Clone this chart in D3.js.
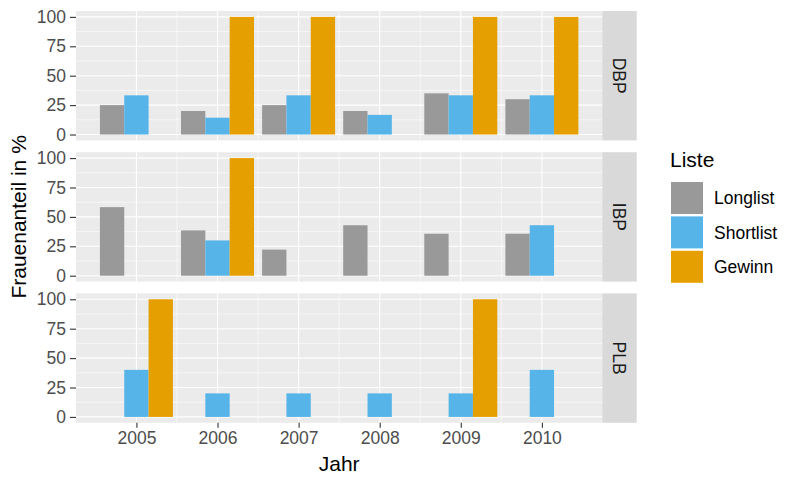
<!DOCTYPE html>
<html>
<head>
<meta charset="utf-8">
<script src="https://cdn.jsdelivr.net/npm/d3@7"></script>
<style>
  body { margin: 0; background: #fff; }
  text { font-family: "Liberation Sans", Arial, sans-serif; }
</style>
</head>
<body>
<div id="chart"></div>
<script>
const svgWidth = 800
const svgHeight = 486

// data
const years = [2005, 2006, 2007, 2008, 2009, 2010]
const prizes = ["DBP", "IBP", "PLB"]
const lists = ["Longlist", "Shortlist", "Gewinn"]
const yTicks = [0, 25, 50, 75, 100]

const dbpLonglist = [25, 20, 25, 20, 35, 30]
const dbpShortlist = [33.3, 14.3, 33.3, 16.7, 33.3, 33.3]
const dbpGewinn = [null, 100, 100, null, 100, 100]

const ibpLonglist = [58.3, 38.5, 22.2, 42.9, 35.7, 35.7]
const ibpShortlist = [null, 30, null, null, null, 42.9]
const ibpGewinn = [null, 100, null, null, null, null]

const plbLonglist = [null, null, null, null, null, null]
const plbShortlist = [40, 20, 20, 20, 20, 40]
const plbGewinn = [100, null, null, null, 100, null]

const series = {
  DBP: [dbpLonglist, dbpShortlist, dbpGewinn],
  IBP: [ibpLonglist, ibpShortlist, ibpGewinn],
  PLB: [plbLonglist, plbShortlist, plbGewinn]
}

const colors = d3.scaleOrdinal().domain(lists).range(["#999999", "#56B4E9", "#E69F00"])

const textSize = "17.5px"
const titleSize = "21px"

let panel = { left: 76, right: 602.3, top: 11, height: 129.4, step: 141.2 }
const stripWidth = 34.4

let svg = d3.select("#chart")
  .append("svg")
  .attr("width", svgWidth)
  .attr("height", svgHeight)

// continuous x like ggplot: bars of width 0.9, 5% expansion
const barW = 0.9
const xLo = years[0] - barW / 2
const xHi = years[years.length - 1] + barW / 2
const pad = (xHi - xLo) * 0.05
let x = d3.scaleLinear()
  .domain([xLo - pad, xHi + pad])
  .range([panel.left, panel.right])

prizes.forEach((prize, p) => {
  let top = panel.top + p * panel.step
  let bottom = top + panel.height
  let y = d3.scaleLinear().domain([-5, 105]).range([bottom, top])

  let g = svg.append("g")

  g.append("rect")
    .attr("x", panel.left)
    .attr("y", top)
    .attr("width", panel.right - panel.left)
    .attr("height", panel.height)
    .attr("fill", "#ebebeb")

  // minor grid
  let yMinor = yTicks.slice(0, -1).map(d => d + 12.5)
  g.selectAll("line.ymin").data(yMinor).enter().append("line")
    .attr("x1", panel.left).attr("x2", panel.right)
    .attr("y1", d => y(d)).attr("y2", d => y(d))
    .attr("stroke", "#fff").attr("stroke-width", 0.55)
  let xMinor = years.slice(0, -1).map(d => d + 0.5)
  g.selectAll("line.xmin").data(xMinor).enter().append("line")
    .attr("y1", top).attr("y2", bottom)
    .attr("x1", d => x(d)).attr("x2", d => x(d))
    .attr("stroke", "#fff").attr("stroke-width", 0.55)

  // major grid
  g.selectAll("line.ymaj").data(yTicks).enter().append("line")
    .attr("x1", panel.left).attr("x2", panel.right)
    .attr("y1", d => y(d)).attr("y2", d => y(d))
    .attr("stroke", "#fff").attr("stroke-width", 1.1)
  g.selectAll("line.xmaj").data(years).enter().append("line")
    .attr("y1", top).attr("y2", bottom)
    .attr("x1", d => x(d)).attr("x2", d => x(d))
    .attr("stroke", "#fff").attr("stroke-width", 1.1)

  // bars, dodged
  let bars = []
  series[prize].forEach((vals, i) => {
    vals.forEach((v, j) => {
      if (v !== null) bars.push({ list: lists[i], i: i, year: years[j], value: v })
    })
  })
  g.selectAll("rect.bar").data(bars).enter().append("rect")
    .attr("class", "bar")
    .attr("x", d => x(d.year - barW / 2 + d.i * barW / 3))
    .attr("width", d => x(d.year - barW / 2 + (d.i + 1) * barW / 3) - x(d.year - barW / 2 + d.i * barW / 3))
    .attr("y", d => y(d.value))
    .attr("height", d => y(0) - y(d.value))
    .attr("fill", d => colors(d.list))

  // y axis
  let yAxis = g.append("g")
    .attr("transform", `translate(${panel.left}, 0)`)
    .call(d3.axisLeft(y).tickValues(yTicks).tickSize(6).tickPadding(4))
  yAxis.select(".domain").remove()
  yAxis.selectAll("line").attr("stroke", "#333333").attr("stroke-width", 1.1)
  yAxis.selectAll("text")
    .attr("fill", "#4d4d4d")
    .style("font-size", textSize)
    .style("font-family", "'Liberation Sans', Arial, sans-serif")

  // strip
  g.append("rect")
    .attr("x", panel.right)
    .attr("y", top)
    .attr("width", stripWidth)
    .attr("height", panel.height)
    .attr("fill", "#d9d9d9")
  g.append("text")
    .attr("transform", `translate(${panel.right + stripWidth / 2}, ${top + panel.height / 2}) rotate(90)`)
    .attr("text-anchor", "middle")
    .attr("dy", "0.35em")
    .attr("fill", "#1a1a1a")
    .style("font-size", textSize)
    .text(prize)

  // x axis on the last panel only
  if (p === prizes.length - 1) {
    let xAxis = g.append("g")
      .attr("transform", `translate(0, ${bottom})`)
      .call(d3.axisBottom(x).tickValues(years).tickFormat(d3.format("d")).tickSize(5).tickPadding(4))
    xAxis.select(".domain").remove()
    xAxis.selectAll("line").attr("stroke", "#333333").attr("stroke-width", 1.1)
    xAxis.selectAll("text")
      .attr("fill", "#4d4d4d")
      .style("font-size", textSize)
      .style("font-family", "'Liberation Sans', Arial, sans-serif")
  }
})

// axis titles
svg.append("text")
  .attr("x", (panel.left + panel.right) / 2)
  .attr("y", 471)
  .attr("text-anchor", "middle")
  .style("font-size", titleSize)
  .text("Jahr")

svg.append("text")
  .attr("transform", `translate(26, ${panel.top + (panel.step * 2 + panel.height) / 2}) rotate(-90)`)
  .attr("text-anchor", "middle")
  .style("font-size", titleSize)
  .text("Frauenanteil in %")

// legend
let legend = svg.append("g").attr("transform", "translate(671, 0)")
legend.append("text")
  .attr("x", -1)
  .attr("y", 167)
  .style("font-size", titleSize)
  .text("Liste")
lists.forEach((l, i) => {
  legend.append("rect")
    .attr("x", 0)
    .attr("y", 182 + i * 34.4)
    .attr("width", 32)
    .attr("height", 32)
    .attr("fill", colors(l))
  legend.append("text")
    .attr("x", 43)
    .attr("y", 182 + i * 34.4 + 16)
    .attr("dy", "0.35em")
    .style("font-size", textSize)
    .attr("fill", "#000")
    .text(l)
})
</script>
</body>
</html>
